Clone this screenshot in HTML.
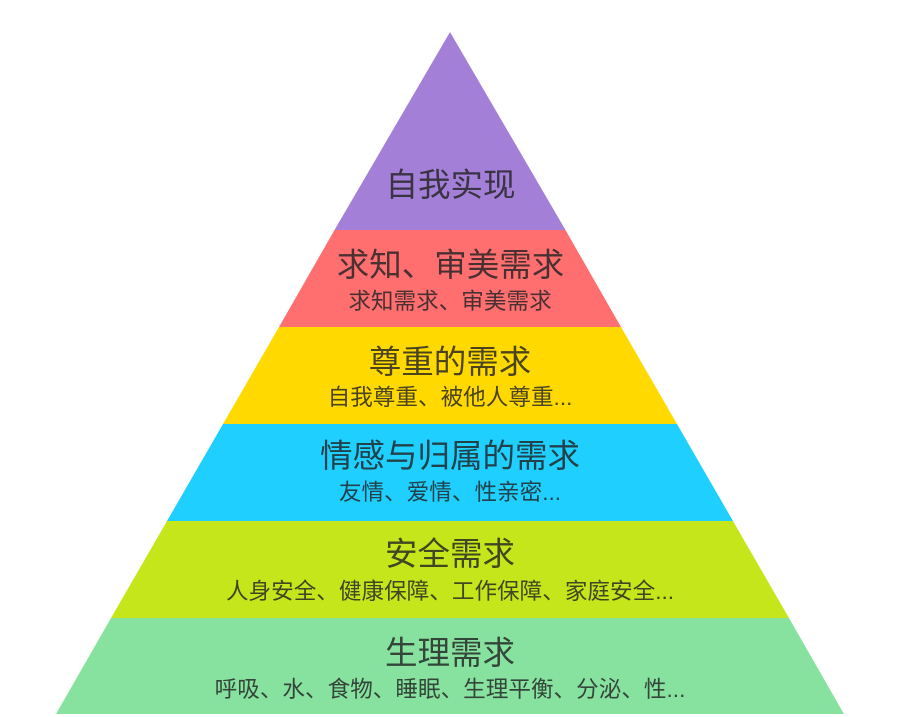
<!DOCTYPE html>
<html lang="zh">
<head>
<meta charset="utf-8">
<style>
html,body{margin:0;padding:0;background:#fff;width:900px;height:717px;overflow:hidden}
svg{display:block}
text{font-family:"Liberation Sans","WenQuanYi Zen Hei","Noto Sans CJK SC",sans-serif;text-anchor:middle;fill:#222;fill-opacity:.82}
.t{font-size:32.5px}
.s{font-size:22.6px}
</style>
</head>
<body>
<svg width="900" height="717" viewBox="0 0 900 717" xmlns="http://www.w3.org/2000/svg">
<rect width="900" height="717" fill="#fff"/>
<polygon points="450,32 565.5,230 334.5,230" fill="#a47fd8"/>
<polygon points="334.5,230 565.5,230 621,327 279,327" fill="#ff6f70"/>
<polygon points="279,327 621,327 677,424 223,424" fill="#ffd900"/>
<polygon points="223,424 677,424 733,521 167,521" fill="#1fcfff"/>
<polygon points="167,521 733,521 789,618 111,618" fill="#c6e61c"/>
<polygon points="111,618 789,618 844,714 56,714" fill="#87e29f"/>
<text class="t" x="450.5" y="196">自我实现</text>
<text class="t" x="450.5" y="276">求知、审美需求</text>
<text class="s" x="450" y="309">求知需求、审美需求</text>
<text class="t" x="450" y="373">尊重的需求</text>
<text class="s" x="450" y="405">自我尊重、被他人尊重...</text>
<text class="t" x="450" y="467">情感与归属的需求</text>
<text class="s" x="450" y="500">友情、爱情、性亲密...</text>
<text class="t" x="450" y="565">安全需求</text>
<text class="s" x="450" y="599">人身安全、健康保障、工作保障、家庭安全...</text>
<text class="t" x="450" y="664">生理需求</text>
<text class="s" x="450" y="697">呼吸、水、食物、睡眠、生理平衡、分泌、性...</text>
</svg>
</body>
</html>
